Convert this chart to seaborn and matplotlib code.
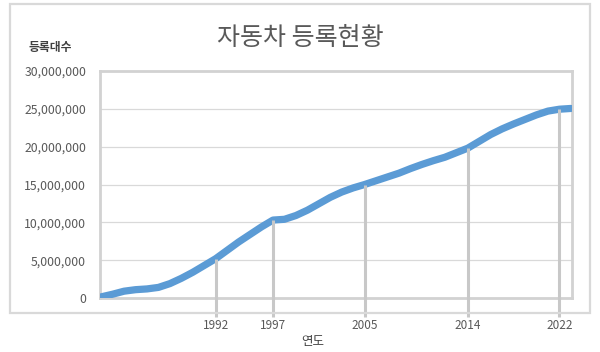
import matplotlib
matplotlib.use("Agg")
import matplotlib.pyplot as plt
import matplotlib.ticker as mticker
from matplotlib.patches import Rectangle
import seaborn as sns
import pandas as pd

# ---- data ----
years = list(range(1982, 2024))
registrations = [
    150000, 500000, 900000, 1100000, 1200000, 1400000, 1900000, 2600000,
    3400000, 4300000, 5200000, 6300000, 7400000, 8400000, 9400000,
    10300000, 10400000, 10900000, 11600000, 12450000, 13300000, 14000000,
    14550000, 15000000, 15500000, 16000000, 16500000, 17100000, 17650000,
    18150000, 18600000, 19200000, 19800000, 20700000, 21600000, 22350000,
    23000000, 23600000, 24200000, 24700000, 24950000, 25050000,
]
label_years = [1992, 1997, 2005, 2014, 2022]
y_ticks = [0, 5000000, 10000000, 15000000, 20000000, 25000000, 30000000]
title = "자동차 등록현황"
y_title = "등록대수"
x_title = "연도"

df = pd.DataFrame({"year": years, "count": registrations})
lookup = dict(zip(years, registrations))
drop_vals = [lookup[y] for y in label_years]

sns.set_theme(style="white")
plt.rcParams["font.family"] = ["Noto Sans CJK KR", "DejaVu Sans"]

fig = plt.figure(figsize=(6.0, 3.52), dpi=100)
fig.patch.set_facecolor("white")
ax = fig.add_axes([100 / 600, 1 - 298 / 352, 472 / 600, 227 / 352])

# outer chart border
fig.patches.append(Rectangle((10 / 600, 1 - 313 / 352), 580 / 600, 309 / 352,
                             transform=fig.transFigure, fill=False,
                             edgecolor="#D9D9D9", linewidth=1.6, zorder=0))

sns.lineplot(data=df, x="year", y="count", ax=ax, color="#5B9BD5",
             linewidth=5.2, solid_capstyle="round", solid_joinstyle="round",
             zorder=3)

# drop lines from the line down below the axis
ax.vlines(label_years, -2.5e6, drop_vals, colors="#C8C8C8", linewidth=2.2,
          zorder=4, clip_on=False)

ax.set_xlim(years[0] - 0.1, years[-1] + 0.1)
ax.set_ylim(0, 30000000)
ax.set_yticks(y_ticks)
ax.yaxis.set_major_formatter(mticker.FuncFormatter(lambda v, p: f"{v:,.0f}"))
ax.set_xticks(label_years)
ax.set_xticklabels([str(y) for y in label_years])
ax.tick_params(axis="y", length=0, pad=10, labelsize=8.8, labelcolor="#595959")
ax.tick_params(axis="x", length=0, pad=15, labelsize=8.5, labelcolor="#595959")
ax.set_xlabel("")
ax.set_ylabel("")

ax.grid(axis="y", color="#D9D9D9", linewidth=0.9)
ax.set_axisbelow(True)
for s in ax.spines.values():
    s.set_visible(True)
    s.set_color("#D2D2D2")
    s.set_linewidth(2.0)

fig.text(300 / 600, 1 - 38 / 352, title, ha="center", va="center",
         fontsize=18, color="#595959", fontweight="medium")
fig.text(50 / 600, 1 - 48 / 352, y_title, ha="center", va="center",
         fontsize=8.5, color="#404040", fontweight="bold")
fig.text(313 / 600, 1 - 342 / 352, x_title, ha="center", va="center",
         fontsize=9, color="#404040")

fig.savefig("out.png", dpi=100, facecolor="white")
